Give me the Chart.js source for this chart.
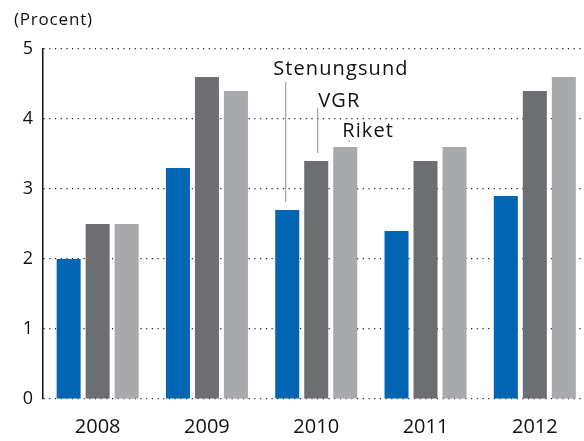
<!DOCTYPE html>
<html>
<head>
<meta charset="utf-8">
<script src="https://cdn.jsdelivr.net/npm/chart.js@4"></script>
<style>
  body { margin: 0; background: #fff; }
  #wrap { width: 584px; height: 441px; position: relative; }
</style>
</head>
<body>
<div id="wrap"><canvas id="bar"></canvas></div>
<script>
var years = ['2008', '2009', '2010', '2011', '2012'];
var stenungsund = [2.0, 3.3, 2.7, 2.4, 2.9];
var vgr = [2.5, 4.6, 3.4, 3.4, 4.4];
var riket = [2.5, 4.4, 3.6, 3.6, 4.6];
var yTicks = [0, 1, 2, 3, 4, 5];

var FONT = "'Open Sans', sans-serif";

function points(vals) {
  return vals.map(function (v, i) { return { x: i, y: v }; });
}

// labels + leader lines on the 2010 group, plus the unit text top left
var notes = {
  id: 'notes',
  afterDatasetsDraw: function (chart) {
    var ctx = chart.ctx;
    var b1 = chart.getDatasetMeta(0).data[2];
    var b2 = chart.getDatasetMeta(1).data[2];
    var b3 = chart.getDatasetMeta(2).data[2];
    ctx.save();
    ctx.strokeStyle = '#8c8c8c';
    ctx.lineWidth = 1;
    ctx.beginPath();
    ctx.moveTo(b1.x - 1.5, b1.y - 8);
    ctx.lineTo(b1.x - 1.5, 82);
    ctx.moveTo(b2.x + 1.5, b2.y - 8);
    ctx.lineTo(b2.x + 1.5, 108);
    ctx.moveTo(b3.x + 4, b3.y - 5);
    ctx.lineTo(b3.x + 4, b3.y - 7);
    ctx.stroke();

    ctx.fillStyle = '#111';
    ctx.textBaseline = 'alphabetic';
    ctx.textAlign = 'left';
    ctx.font = '500 20px ' + FONT;
    ctx.letterSpacing = '1.1px';
    ctx.fillText('Stenungsund', b1.x - 14, 75);
    ctx.fillText('VGR', b2.x + 2, 107);
    ctx.fillText('Riket', b3.x - 3, 137);

    ctx.font = '17px ' + FONT;
    ctx.letterSpacing = '0.8px';
    ctx.fillText('(Procent)', 14, 25);
    ctx.restore();
  }
};

window.onload = function () {
  window.myBar = new Chart(document.getElementById('bar').getContext('2d'), {
    type: 'bar',
    data: {
      datasets: [
        { label: 'Stenungsund', data: points(stenungsund), backgroundColor: '#0066b3' },
        { label: 'VGR', data: points(vgr), backgroundColor: '#6d6e72' },
        { label: 'Riket', data: points(riket), backgroundColor: '#a8a9ad' }
      ]
    },
    options: {
      responsive: true,
      maintainAspectRatio: false,
      animation: false,
      categoryPercentage: 0.796,
      barPercentage: 0.828,
      layout: { padding: { top: 49, left: 0, right: 0, bottom: 0 } },
      plugins: { legend: { display: false }, tooltip: { enabled: false } },
      scales: {
        x: {
          type: 'linear',
          offset: false,
          min: -0.5,
          max: 4.45,
          grid: { display: false, offset: false },
          border: { display: false },
          afterBuildTicks: function (scale) {
            scale.ticks = years.map(function (y, i) { return { value: i }; });
          },
          afterFit: function (scale) { scale.height = 42; },
          ticks: {
            padding: 8,
            color: '#111',
            font: { family: FONT, size: 20 },
            callback: function (v) { return years[v]; }
          }
        },
        y: {
          min: 0,
          max: 5,
          afterBuildTicks: function (scale) {
            scale.ticks = yTicks.map(function (v) { return { value: v }; });
          },
          afterFit: function (scale) { scale.width = 43; },
          grid: { color: '#222', lineWidth: 1.2, drawTicks: false },
          border: { display: true, color: '#111', width: 1.5, dash: [1.2, 4.5] },
          ticks: {
            padding: 10,
            color: '#111',
            font: { family: FONT, size: 18 }
          }
        }
      }
    },
    plugins: [notes]
  });
};
</script>
</body>
</html>
